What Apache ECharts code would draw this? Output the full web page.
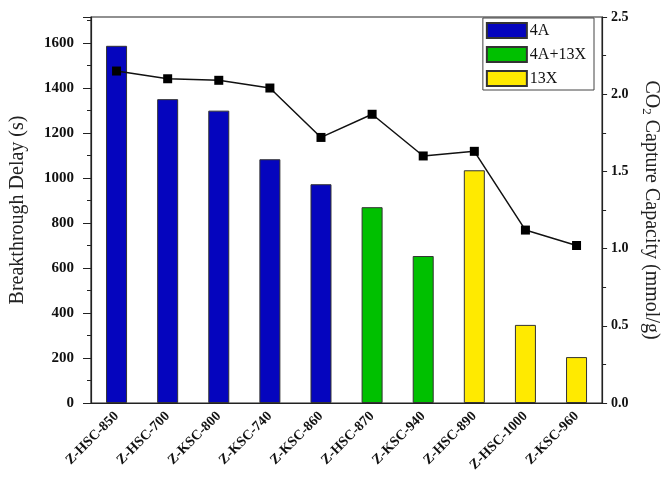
<!DOCTYPE html>
<html>
<head>
<meta charset="utf-8">
<script src="https://cdn.jsdelivr.net/npm/echarts@6/dist/echarts.min.js"></script>
<style>
  html, body { margin: 0; padding: 0; background: #fff; }
  #chart { width: 669px; height: 483px; }
</style>
</head>
<body>
<div id="chart"></div>
<script>
// Samples, in plotting order
const categories = ['Z-HSC-850', 'Z-HSC-700', 'Z-KSC-800', 'Z-KSC-740', 'Z-KSC-860',
                    'Z-HSC-870', 'Z-KSC-940', 'Z-HSC-890', 'Z-HSC-1000', 'Z-KSC-960'];
// Zeolite type of each sample
const sampleGroup = ['4A', '4A', '4A', '4A', '4A', '4A+13X', '4A+13X', '13X', '13X', '13X'];
// Breakthrough delay (s)
const delayValues = [1587, 1350, 1299, 1083, 972, 870, 653, 1034, 347, 204];
// CO2 capture capacity (mmol/g)
const capacityValues = [2.15, 2.10, 2.09, 2.04, 1.72, 1.87, 1.60, 1.63, 1.12, 1.02];

const groups = ['4A', '4A+13X', '13X'];
const groupColors = { '4A': '#0505BE', '4A+13X': '#00C000', '13X': '#FFEA00' };

const serif = '"Liberation Serif", "Times New Roman", serif';

const barSeries = groups.map(g => ({
  name: g,
  type: 'bar',
  xAxisIndex: 0,
  yAxisIndex: 0,
  barWidth: 21,
  barGap: '-100%',
  itemStyle: { color: groupColors[g], borderColor: '#333', borderWidth: 1 },
  data: delayValues.map((v, i) => sampleGroup[i] === g ? v : '-')
}));

const chart = echarts.init(document.getElementById('chart'), null, { renderer: 'canvas' });
chart.setOption({
  animation: false,
  backgroundColor: '#fff',
  grid: {
    left: 89.5, right: 63, top: 17, bottom: 80,
    show: true, borderColor: '#222', borderWidth: 1.2, backgroundColor: 'transparent'
  },
  legend: {
    data: groups,
    orient: 'vertical',
    right: 75, top: 18,
    itemWidth: 40, itemHeight: 15, itemGap: 7,
    padding: [4, 8, 3, 3],
    borderColor: '#444', borderWidth: 1, borderRadius: 0,
    backgroundColor: '#fff',
    textStyle: { fontFamily: serif, fontSize: 16, color: '#111', padding: [0, 0, 0, -2] },
    icon: 'rect'
  },
  xAxis: [
    {
      type: 'category',
      data: categories,
      axisLine: { lineStyle: { color: '#222', width: 1.2 } },
      axisTick: { alignWithLabel: true, inside: false, length: 8, lineStyle: { color: '#222' } },
      axisLabel: {
        rotate: 45, interval: 0, margin: 11,
        fontFamily: serif, fontWeight: 'bold', fontSize: 14, color: '#111'
      }
    },
    {
      // boundary ticks between samples
      type: 'category',
      data: categories,
      position: 'bottom',
      axisLine: { show: false },
      axisTick: { length: 4, lineStyle: { color: '#222' } },
      axisLabel: { show: false }
    }
  ],
  yAxis: [
    {
      type: 'value',
      min: 0, max: 1715, interval: 200,
      name: 'Breakthrough Delay (s)',
      nameLocation: 'middle', nameGap: 63, nameRotate: 90,
      nameTextStyle: { fontFamily: serif, fontSize: 20, color: '#222' },
      axisLine: { show: true, lineStyle: { color: '#222', width: 1.2 } },
      axisTick: { show: true, length: 8, lineStyle: { color: '#222' } },
      minorTick: { show: true, splitNumber: 2, length: 4, lineStyle: { color: '#222' } },
      splitLine: { show: false },
      axisLabel: {
        margin: 17, fontFamily: serif, fontWeight: 'bold', fontSize: 15, color: '#111',
        showMaxLabel: false,
        formatter: v => String(v)
      }
    },
    {
      type: 'value',
      min: 0, max: 2.5, interval: 0.5,
      position: 'right',
      name: '{n|CO}{s|2}{n| Capture Capacity (mmol/g)}',
      nameLocation: 'middle', nameGap: 33, nameRotate: -90,
      nameTextStyle: {
        fontFamily: serif, fontSize: 20, color: '#222',
        rich: {
          n: { fontFamily: serif, fontSize: 20, color: '#222' },
          s: { fontFamily: serif, fontSize: 13, color: '#222', padding: [10, 0, 0, 0] }
        }
      },
      axisLine: { show: true, lineStyle: { color: '#222', width: 1.2 } },
      axisTick: { show: true, length: 5, lineStyle: { color: '#222' } },
      minorTick: { show: true, splitNumber: 2, length: 4, lineStyle: { color: '#222' } },
      splitLine: { show: false },
      axisLabel: {
        margin: 9, fontFamily: serif, fontWeight: 'bold', fontSize: 14, color: '#111',
        formatter: v => v.toFixed(1)
      }
    }
  ],
  series: barSeries.concat([{
    name: 'CO2 Capture Capacity',
    type: 'line',
    xAxisIndex: 0,
    yAxisIndex: 1,
    data: capacityValues,
    symbol: 'rect',
    symbolSize: 9,
    itemStyle: { color: '#000' },
    lineStyle: { color: '#111', width: 1.5 },
    z: 5
  }])
});
</script>
</body>
</html>
